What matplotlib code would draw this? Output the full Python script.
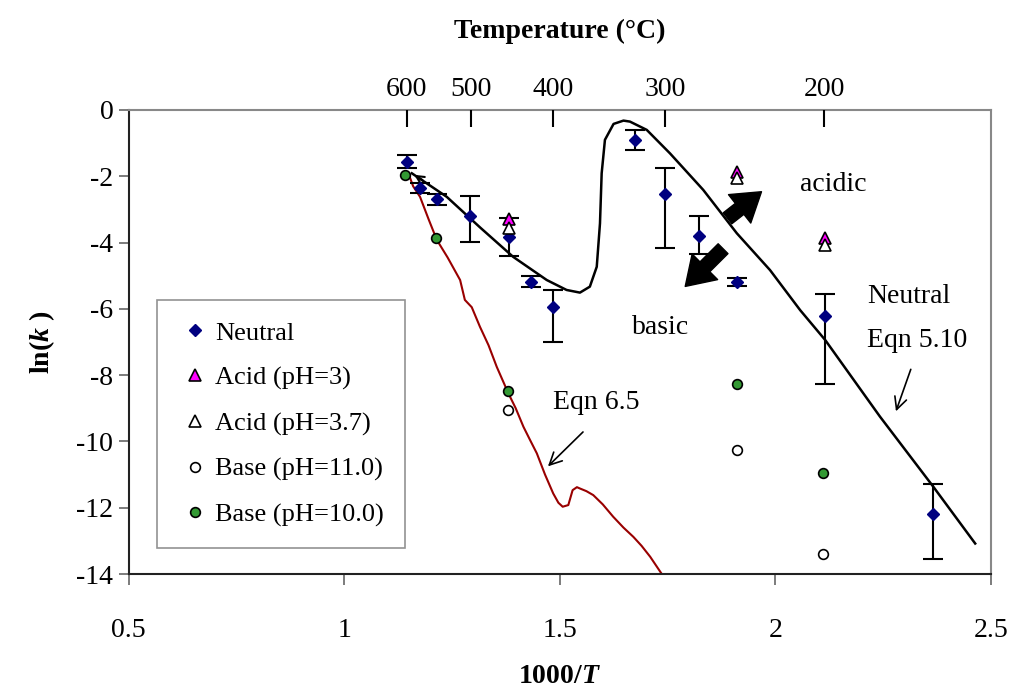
import numpy as np
import matplotlib
matplotlib.use("Agg")
import matplotlib.pyplot as plt

plt.rcParams['font.family'] = ['Liberation Serif', 'DejaVu Serif']
plt.rcParams['mathtext.fontset'] = 'custom'
plt.rcParams['mathtext.rm'] = 'Liberation Serif'
plt.rcParams['mathtext.it'] = 'Liberation Serif:italic'
plt.rcParams['mathtext.bf'] = 'Liberation Serif:bold'
plt.rcParams['mathtext.bfit'] = 'Liberation Serif:bold:italic'
plt.rcParams['axes.unicode_minus'] = False

# ---- data ----
neutral_x = [1.145, 1.177, 1.215, 1.293, 1.382, 1.433, 1.484, 1.675, 1.744, 1.823, 1.912, 2.116, 2.367]
neutral_y = [-1.56, -2.34, -2.69, -3.19, -3.82, -5.18, -5.95, -0.91, -2.52, -3.79, -5.18, -6.22, -12.19]
neutral_err_up = [0.20, 0.15, 0.17, 0.60, 0.56, 0.17, 0.52, 0.30, 0.77, 0.59, 0.12, 0.67, 0.90]
neutral_err_dn = [0.20, 0.15, 0.17, 0.79, 0.58, 0.17, 1.04, 0.30, 1.63, 0.56, 0.12, 2.05, 1.37]

acid3_x = [1.382, 1.912, 2.116]
acid3_y = [-3.29, -1.86, -3.85]
acid37_x = [1.382, 1.912, 2.116]
acid37_y = [-3.57, -2.06, -4.07]

base11_x = [1.379, 1.911, 2.112]
base11_y = [-9.05, -10.26, -13.41]
base10_x = [1.141, 1.213, 1.379, 1.911, 2.112]
base10_y = [-1.95, -3.87, -8.47, -8.27, -10.94]

eqn510_x = [1.157, 1.238, 1.315, 1.392, 1.470, 1.516, 1.547, 1.570, 1.586, 1.5935, 1.5974,
            1.605, 1.625, 1.648, 1.663, 1.702, 1.756, 1.833, 1.911, 1.988, 2.058, 2.116,
            2.243, 2.367, 2.464]
eqn510_y = [-1.91, -2.62, -3.54, -4.43, -5.13, -5.43, -5.51, -5.33, -4.73, -3.42, -1.91,
            -0.90, -0.42, -0.32, -0.35, -0.60, -1.31, -2.41, -3.72, -4.83, -6.04, -6.94,
            -9.25, -11.37, -13.08]

eqn65_x = [1.149, 1.160, 1.176, 1.196, 1.215, 1.240, 1.269, 1.280, 1.296, 1.315, 1.335, 1.354,
           1.381, 1.398, 1.416, 1.431, 1.447, 1.466, 1.485, 1.497, 1.507, 1.520, 1.530,
           1.540, 1.547, 1.562, 1.578, 1.600, 1.624, 1.648, 1.671, 1.690, 1.710, 1.741]
eqn65_y = [-1.91, -2.30, -2.62, -3.30, -3.92, -4.45, -5.13, -5.73, -5.95, -6.54, -7.10, -7.75,
           -8.55, -9.00, -9.56, -9.95, -10.36, -11.00, -11.57, -11.85, -11.97, -11.92, -11.47,
           -11.38, -11.42, -11.50, -11.62, -11.90, -12.27, -12.60, -12.88, -13.15, -13.48, -14.08]

temp_ticks = [600, 500, 400, 300, 200]

# ---- figure ----
fig = plt.figure(figsize=(10.13, 6.94), dpi=100)
ax = fig.add_axes([0.127, 0.1729, 0.851, 0.6686])

ax.plot(eqn510_x, eqn510_y, color='black', lw=1.8, zorder=2)
ax.annotate('', xy=(eqn510_x[0], eqn510_y[0]), xytext=(eqn510_x[0] + 0.03, eqn510_y[0] - 0.25),
            arrowprops=dict(arrowstyle='->', color='black', lw=1.5, mutation_scale=14), zorder=2)
ax.plot(eqn65_x, eqn65_y, color='#990000', lw=1.5, zorder=2, clip_on=True)

ax.errorbar(neutral_x, neutral_y, yerr=[neutral_err_dn, neutral_err_up], fmt='none',
            ecolor='black', elinewidth=1.5, capsize=7, capthick=1.5, zorder=3)
ax.plot(neutral_x, neutral_y, 'D', color='#000080', ms=6.5, mec='#000080', label='Neutral', zorder=4)
ax.plot(acid3_x, acid3_y, '^', color='#FF00FF', ms=8, mec='black', mew=1.2, label='Acid (pH=3)', zorder=4)
ax.plot(acid37_x, acid37_y, '^', color='white', ms=8, mec='black', mew=1.2, label='Acid (pH=3.7)', zorder=4)
ax.plot(base11_x, base11_y, 'o', color='white', ms=7, mec='black', mew=1.2, label='Base (pH=11.0)', zorder=4)
ax.plot(base10_x, base10_y, 'o', color='#339933', ms=7, mec='black', mew=1.2, label='Base (pH=10.0)', zorder=4)

# big arrows
ax.annotate('', xy=(1.9733, -2.414), xytext=(1.8844, -3.319),
            arrowprops=dict(arrowstyle='simple,head_length=1.0,head_width=1.3,tail_width=0.5',
                            color='black', mutation_scale=20), zorder=5)
ax.annotate('', xy=(1.7867, -5.382), xytext=(1.8836, -4.126),
            arrowprops=dict(arrowstyle='simple,head_length=1.0,head_width=1.3,tail_width=0.5',
                            color='black', mutation_scale=20), zorder=5)
ax.text(2.058, -2.26, 'acidic', fontsize=20, va='center', ha='left')
ax.text(1.668, -6.55, 'basic', fontsize=20, va='center', ha='left')

ax.annotate('', xy=(1.4682, -10.81), xytext=(1.5587, -9.656),
            arrowprops=dict(arrowstyle='->', color='black', lw=1.2, mutation_scale=22))
ax.text(1.485, -8.84, 'Eqn 6.5', fontsize=20, va='center', ha='left')

ax.annotate('', xy=(2.278, -9.17), xytext=(2.3167, -7.746),
            arrowprops=dict(arrowstyle='->', color='black', lw=1.2, mutation_scale=22))
ax.text(2.214, -5.63, 'Neutral', fontsize=20, va='center', ha='left')
ax.text(2.214, -6.94, 'Eqn 5.10', fontsize=20, va='center', ha='left')

ax.set_xlim(0.5, 2.5)
ax.set_ylim(-14, 0)
ax.set_xticks([0.5, 1, 1.5, 2, 2.5])
ax.set_xticklabels(['0.5', '1', '1.5', '2', '2.5'])
ax.set_yticks(np.arange(-14, 1, 2))
ax.tick_params(axis='x', direction='out', length=8, width=1.2, color='#666666', labelsize=20, pad=24)
ax.tick_params(axis='y', direction='out', length=7, width=1.2, color='#666666', labelsize=20, pad=4)
for s in ['top', 'right']:
    ax.spines[s].set_color('#888888')
    ax.spines[s].set_linewidth(1.5)
for s in ['left', 'bottom']:
    ax.spines[s].set_color('#222222')
    ax.spines[s].set_linewidth(1.5)

ax.set_xlabel('1000/$\\mathbfit{T}$', fontsize=20, fontweight='bold', labelpad=15)
ax.set_ylabel('ln($\\mathbfit{k}$ )', fontsize=20, fontweight='bold', labelpad=14)

ax2 = ax.twiny()
ax2.set_xlim(ax.get_xlim())
ax2.set_xticks([1000.0 / (t + 273.15) for t in temp_ticks])
ax2.set_xticklabels([str(t) for t in temp_ticks])
ax2.tick_params(axis='x', direction='in', length=12, width=1.5, color='black', labelsize=20, pad=6)
for s in ax2.spines.values():
    s.set_visible(False)
ax2.set_xlabel('Temperature (°C)', fontsize=20, fontweight='bold', labelpad=28)

leg = ax.legend(loc='upper left', bbox_to_anchor=(0.0328, 0.5905), borderaxespad=0,
                fontsize=19, frameon=True, fancybox=False, edgecolor='#777777',
                labelspacing=0.82, handletextpad=0.1, handlelength=1.3, borderpad=0.8,
                numpoints=1)
leg.get_frame().set_linewidth(1.2)

fig.savefig('out.png', dpi=100)
